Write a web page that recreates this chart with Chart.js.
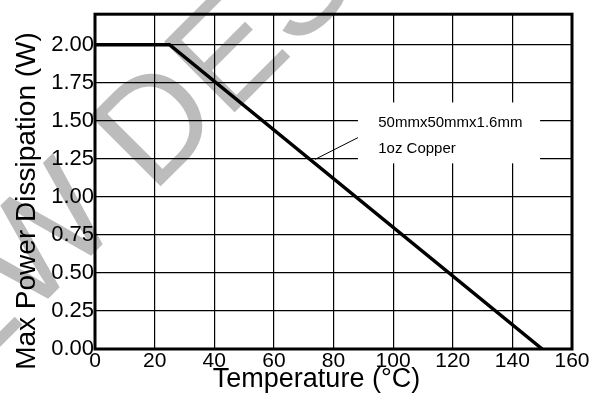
<!DOCTYPE html>
<html>
<head>
<meta charset="utf-8">
<script src="https://cdn.jsdelivr.net/npm/chart.js@4.4.1/dist/chart.umd.min.js"></script>
<style>
  html, body { margin: 0; padding: 0; background: #ffffff; }
  #wrap { width: 598px; height: 402px; }
</style>
</head>
<body>
<div id="wrap"><canvas id="c" width="598" height="402"></canvas></div>
<script>
// ---- data ----
const temperatures = [0, 25, 150];          // °C
const powerValues = [2.0, 2.0, 0.0];        // W
const xTicks = [0, 20, 40, 60, 80, 100, 120, 140, 160];
const yTicks = [0, 0.25, 0.5, 0.75, 1.0, 1.25, 1.5, 1.75, 2.0];
const xTitle = 'Temperature (°C)';
const yTitle = 'Max Power Dissipation (W)';
const noteLines = ['50mmx50mmx1.6mm', '1oz Copper'];
const watermarkText = 'NEW DESIGN';

const FONT = '"Liberation Sans", Arial, Helvetica, sans-serif';

const bgPlugin = {
  id: 'bg',
  beforeDraw(chart) {
    const ctx = chart.ctx;
    ctx.save();
    ctx.fillStyle = '#ffffff';
    ctx.fillRect(0, 0, chart.width, chart.height);
    // watermark
    ctx.translate(160, 187);
    ctx.rotate(-Math.PI / 4);
    ctx.fillStyle = '#bcbcbc';
    ctx.font = '145px ' + FONT;
    ctx.textBaseline = 'alphabetic';
    const pre = 'NEW ';
    const wPre = ctx.measureText(pre).width;
    ctx.fillText(watermarkText, -wPre - 11, 0);
    ctx.restore();
  }
};

const notePlugin = {
  id: 'note',
  beforeDatasetsDraw(chart) {
    const ctx = chart.ctx;
    const xs = chart.scales.x, ys = chart.scales.y;
    ctx.save();
    // white box interrupting the grid
    const x0 = xs.getPixelForValue(88.2), x1 = xs.getPixelForValue(149.3);
    const y0 = ys.getPixelForValue(1.62), y1 = ys.getPixelForValue(1.22);
    ctx.fillStyle = '#ffffff';
    ctx.fillRect(x0, y0, x1 - x0, y1 - y0);
    // text
    ctx.fillStyle = '#000';
    ctx.font = '15px ' + FONT;
    ctx.textAlign = 'left';
    ctx.textBaseline = 'middle';
    ctx.fillText(noteLines[0], xs.getPixelForValue(95), ys.getPixelForValue(1.486));
    ctx.fillText(noteLines[1], xs.getPixelForValue(95), ys.getPixelForValue(1.317));
    // leader line
    ctx.strokeStyle = '#000';
    ctx.lineWidth = 1;
    ctx.beginPath();
    ctx.moveTo(xs.getPixelForValue(73.8), ys.getPixelForValue(1.246));
    ctx.lineTo(xs.getPixelForValue(88.2), ys.getPixelForValue(1.389));
    ctx.stroke();
    ctx.restore();
  },
  afterDraw(chart) {
    const ctx = chart.ctx;
    const a = chart.chartArea;
    ctx.save();
    // frame
    ctx.strokeStyle = '#000';
    ctx.lineWidth = 3;
    ctx.strokeRect(a.left, a.top, a.right - a.left, a.bottom - a.top);
    // axis titles
    ctx.fillStyle = '#000';
    ctx.font = '27px ' + FONT;
    ctx.textAlign = 'center';
    ctx.textBaseline = 'alphabetic';
    ctx.fillText(xTitle, (a.left + a.right) / 2 - 17, 387);
    ctx.translate(35, 201);
    ctx.rotate(-Math.PI / 2);
    ctx.font = '28px ' + FONT;
    ctx.fillText(yTitle, 0, 0);
    ctx.restore();
  }
};

new Chart(document.getElementById('c'), {
  type: 'line',
  data: {
    datasets: [{
      data: temperatures.map((t, i) => ({ x: t, y: powerValues[i] })),
      borderColor: '#000',
      borderWidth: 3.5,
      pointRadius: 0,
      fill: false,
      tension: 0
    }]
  },
  options: {
    responsive: false,
    animation: false,
    devicePixelRatio: 1,
    layout: { padding: { left: 0, top: 10, right: 26, bottom: 0 } },
    plugins: { legend: { display: false }, tooltip: { enabled: false } },
    scales: {
      x: {
        type: 'linear',
        min: 0, max: 160,
        afterBuildTicks(scale) { scale.ticks = xTicks.map(v => ({ value: v })); },
        afterFit(scale) { scale.height = 53; },
        ticks: {
          color: '#000',
          font: { family: FONT, size: 21 },
          padding: 0,
          maxRotation: 0,
          autoSkip: false,
          callback: v => String(v)
        },
        grid: { color: '#000', lineWidth: 1.2, drawTicks: false },
        border: { display: false }
      },
      y: {
        type: 'linear',
        min: 0, max: 2.2,
        afterBuildTicks(scale) { scale.ticks = yTicks.map(v => ({ value: v })); },
        afterFit(scale) { scale.width = 95; },
        ticks: {
          color: '#000',
          font: { family: FONT, size: 22 },
          padding: 1,
          autoSkip: false,
          callback: v => Number(v).toFixed(2)
        },
        grid: { color: '#000', lineWidth: 1.2, drawTicks: false },
        border: { display: false }
      }
    }
  },
  plugins: [bgPlugin, notePlugin]
});
</script>
</body>
</html>
